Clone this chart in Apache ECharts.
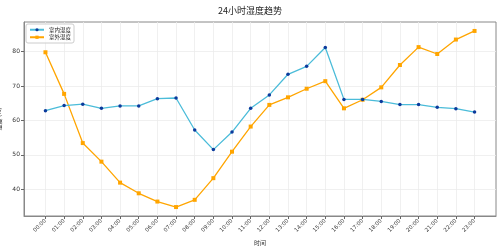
<!DOCTYPE html>
<html>
<head>
<meta charset="utf-8">
<script src="https://cdn.jsdelivr.net/npm/echarts@6/dist/echarts.min.js"></script>
<style>
  html, body { margin: 0; padding: 0; background: #fff; }
  #chart { width: 500px; height: 248px; }
</style>
</head>
<body>
<div id="chart"></div>
<script>
const hours = ['00:00', '01:00', '02:00', '03:00', '04:00', '05:00', '06:00', '07:00',
  '08:00', '09:00', '10:00', '11:00', '12:00', '13:00', '14:00', '15:00',
  '16:00', '17:00', '18:00', '19:00', '20:00', '21:00', '22:00', '23:00']
const indoor = [62.8, 64.3, 64.7, 63.5, 64.2, 64.2, 66.3, 66.5, 57.2, 51.5, 56.6, 63.5,
  67.4, 73.4, 75.7, 81.2, 66.1, 66.1, 65.5, 64.6, 64.6, 63.8, 63.4, 62.4]
const outdoor = [79.8, 67.7, 53.4, 48.0, 41.9, 38.8, 36.4, 34.8, 36.9, 43.2, 50.9, 58.2,
  64.5, 66.7, 69.2, 71.4, 63.5, 66.0, 69.6, 76.1, 81.3, 79.3, 83.5, 86.0]
const yTicks = [40, 50, 60, 70, 80]

const font = '"DejaVu Sans", "Noto Sans CJK SC", sans-serif'
const cjk = '"Noto Sans CJK SC", "DejaVu Sans", sans-serif'

const chart = echarts.init(document.getElementById('chart'))

chart.setOption({
  animation: false,
  title: {
    text: '24小时湿度趋势',
    left: 'center',
    top: 1,
    textStyle: { fontFamily: cjk, fontSize: 9, fontWeight: 'normal', color: '#222' },
  },
  legend: {
    left: 26,
    top: 24,
    orient: 'vertical',
    itemGap: 2,
    itemWidth: 14,
    itemHeight: 4,
    padding: [3, 3, 3, 3],
    borderColor: '#ccc',
    borderWidth: 1,
    borderRadius: 2,
    backgroundColor: 'rgba(255,255,255,0.8)',
    textStyle: { fontFamily: cjk, fontSize: 5.5, color: '#222' },
    data: ['室内湿度', '室外湿度'],
  },
  grid: {
    left: 24, right: 4, top: 22, bottom: 32,
    containLabel: false, outerBoundsMode: 'none',
    show: true, borderColor: '#888', borderWidth: 1,
  },
  xAxis: {
    type: 'value',
    min: -1.15,
    max: 24.15,
    name: '时间',
    nameLocation: 'middle',
    nameGap: 24,
    nameTextStyle: { fontFamily: cjk, fontSize: 6, color: '#333' },
    axisLine: { show: true, onZero: false, lineStyle: { color: '#888' } },
    axisTick: { show: true, length: 3, lineStyle: { color: '#666' }, customValues: hours.map((h, i) => i) },
    axisLabel: {
      rotate: 45,
      fontSize: 5.5,
      fontFamily: font,
      color: '#333',
      margin: 4,
      customValues: hours.map((h, i) => i),
      formatter: (v) => hours[Math.round(v)] || '',
    },
    splitLine: { show: true, lineStyle: { color: '#ececec', width: 0.8 } },
  },
  yAxis: {
    type: 'value',
    min: 32.2,
    max: 88.6,
    name: '湿度 (%)',
    nameLocation: 'middle',
    nameGap: 17,
    nameTextStyle: { fontFamily: cjk, fontSize: 6, color: '#333' },
    axisLine: { show: true, onZero: false, lineStyle: { color: '#888' } },
    axisTick: { show: true, length: 3, lineStyle: { color: '#666' }, customValues: yTicks },
    axisLabel: { fontSize: 6, fontFamily: font, color: '#333', margin: 4, customValues: yTicks },
    splitLine: { show: true, lineStyle: { color: '#ececec', width: 0.8 } },
  },
  series: [
    {
      name: '室内湿度',
      type: 'line',
      data: indoor.map((v, i) => [i, v]),
      symbol: 'circle',
      symbolSize: 3.5,
      lineStyle: { color: '#4bbcd9', width: 1.3 },
      itemStyle: { color: '#0b3a9c', borderWidth: 0 },
      z: 3,
    },
    {
      name: '室外湿度',
      type: 'line',
      data: outdoor.map((v, i) => [i, v]),
      symbol: 'rect',
      symbolSize: 4,
      lineStyle: { color: '#ffa500', width: 1.3 },
      itemStyle: { color: '#ffa500', borderWidth: 0 },
      z: 2,
    },
  ],
})
</script>
</body>
</html>
